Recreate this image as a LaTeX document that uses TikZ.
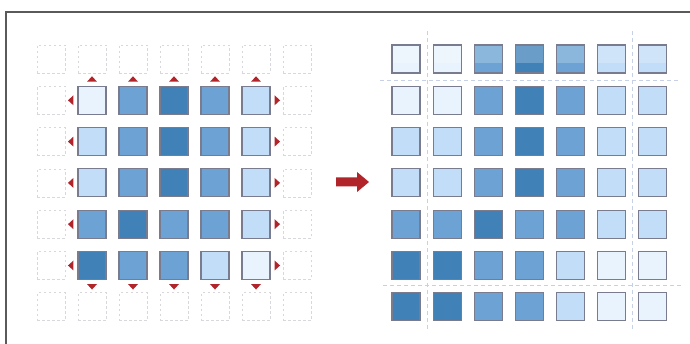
\documentclass[tikz,border=0pt]{standalone}
\usetikzlibrary{calc}
\definecolor{cVL}{RGB}{233,243,253}
\definecolor{cL}{RGB}{194,221,247}
\definecolor{cM}{RGB}{108,163,212}
\definecolor{cD}{RGB}{64,130,184}
\definecolor{sqborder}{RGB}{120,124,142}
\definecolor{gridgray}{RGB}{215,215,220}
\definecolor{guidec}{RGB}{198,208,230}
\definecolor{tred}{RGB}{176,36,42}
\definecolor{framec}{RGB}{90,90,90}
\begin{document}
\begin{tikzpicture}[x=1pt,y=-1pt,
  cell/.style={draw=gridgray, line width=0.7pt, dash pattern=on 2.5pt off 2.5pt, minimum size=28pt, inner sep=0pt},
  sq/.style={draw=sqborder, line width=1.1pt, fill=#1, minimum size=28pt, inner sep=0pt},
  sqtwo/.style={sq=#1!78!white, path picture={\fill[#1] (path picture bounding box.south west) rectangle ([yshift=9.5pt]path picture bounding box.south east);}},
  tri/.style={fill=tred, draw=none},
  guide/.style={draw=guidec, line width=0.8pt, dash pattern=on 4pt off 3pt},
  frameline/.style={draw=framec, line width=1.5pt}]
\useasboundingbox (0,0) rectangle (690,344);
\fill[white] (0,0) rectangle (690,344);
% frame
\draw[frameline] (690,12) -- (6,12) -- (6,344);
% left dashed cells
\foreach \r in {0,...,6}{\foreach \c in {0,...,6}{
  \pgfmathtruncatemacro\inside{(\r>0)&&(\r<6)&&(\c>0)&&(\c<6)}
  \ifnum\inside=0 \node[cell] (lc-\r-\c) at ({51+41*\c},{59+41.3*\r}) {}; \fi
}}
% left solid squares
\foreach \row [count=\r] in {{cVL,cM,cD,cM,cL},{cL,cM,cD,cM,cL},{cL,cM,cD,cM,cL},{cM,cD,cM,cM,cL},{cD,cM,cM,cL,cVL}}{
  \foreach \col [count=\c] in \row {
    \node[sq=\col] (l-\r-\c) at ({51+41*\c},{59+41.3*\r}) {};
  }
}
% triangles
\foreach \c in {1,...,5}{
  \fill[tri] ([yshift=4pt]l-1-\c.north) ++(-5,0) -- ++(10,0) -- ++(-5,-5.5) -- cycle;
  \fill[tri] ([yshift=-4pt]l-5-\c.south) ++(-5,0) -- ++(10,0) -- ++(-5,5.5) -- cycle;
}
\foreach \r in {1,...,5}{
  \fill[tri] ([xshift=-4pt]l-\r-1.west) ++(0,-5) -- ++(0,10) -- ++(-5.5,-5) -- cycle;
  \fill[tri] ([xshift=4pt]l-\r-5.east) ++(0,-5) -- ++(0,10) -- ++(5.5,-5) -- cycle;
}
% arrow
\coordinate (arrS) at (336,182);
\fill[tred] (arrS) ++(0,-4.5) -- ++(21,0) -- ++(0,-5.5) -- ++(12,10) -- ++(-12,10) -- ++(0,-5.5) -- ++(-21,0) -- cycle;
% right guides
\draw[guide] (427.5,31) -- (427.5,330);
\draw[guide] (632,31) -- (632,330);
\draw[guide] (380,80) -- (680,80);
\draw[guide] (383,285) -- (682,285);
% right grid
\foreach \col [count=\c from 0] in {cVL,cVL,cM,cD,cM,cL,cL}{
  \node[sqtwo=\col] (r-0-\c) at ({406+41.1*\c},59) {};
}
\foreach \row [count=\r] in {{cVL,cVL,cM,cD,cM,cL,cL},{cL,cL,cM,cD,cM,cL,cL},{cL,cL,cM,cD,cM,cL,cL},{cM,cM,cD,cM,cM,cL,cL},{cD,cD,cM,cM,cL,cVL,cVL},{cD,cD,cM,cM,cL,cVL,cVL}}{
  \foreach \col [count=\c from 0] in \row {
    \node[sq=\col] (r-\r-\c) at ({406+41.1*\c},{59+41.3*\r}) {};
  }
}
\end{tikzpicture}
\end{document}
